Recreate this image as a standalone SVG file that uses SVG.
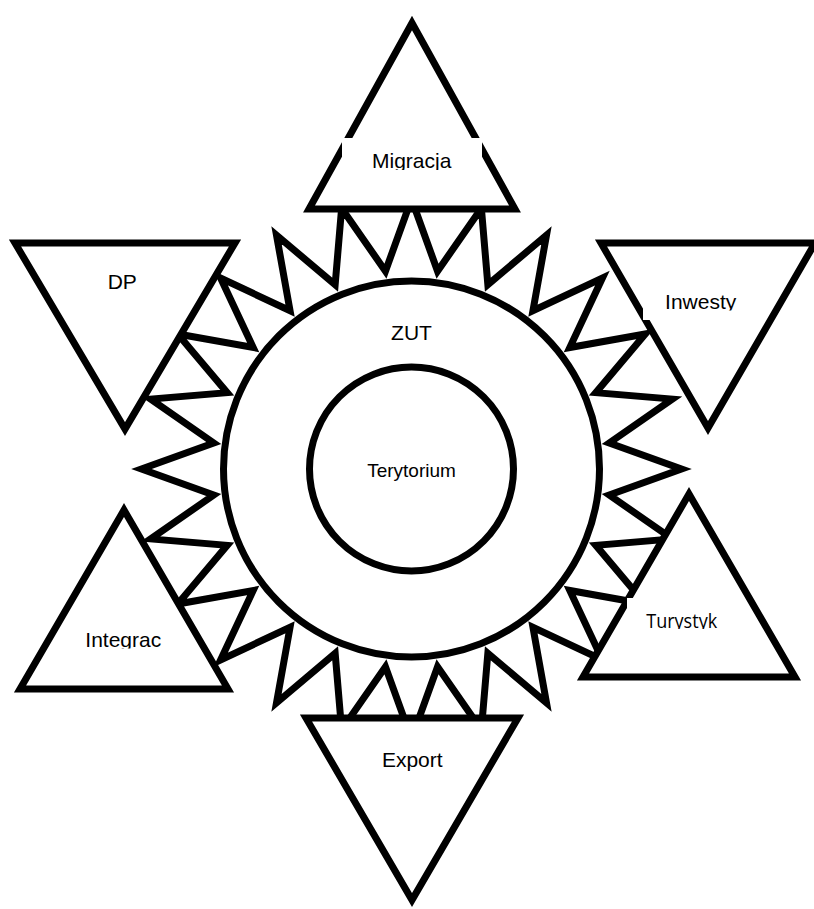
<svg xmlns="http://www.w3.org/2000/svg" width="814" height="909" viewBox="0 0 814 909">
<style>
.shape{fill:#fff;stroke:#000;stroke-width:7;stroke-linejoin:miter;stroke-miterlimit:10}
.lbl{font-family:"Liberation Sans",Arial,sans-serif;font-size:21px;fill:#000;text-anchor:middle}
.box{fill:#fff;stroke:none}
</style>
<defs>
<clipPath id="cMig"><rect x="340" y="130" width="145" height="40"/></clipPath>
<clipPath id="cInw"><rect x="640" y="280" width="125" height="30.5"/></clipPath>
<clipPath id="cInt"><rect x="60" y="615" width="130" height="33.5"/></clipPath>
<clipPath id="cTur"><rect x="620" y="598" width="125" height="31"/></clipPath>
</defs>
<rect width="814" height="909" fill="#fff"/>
<g id="connectors">
<polygon id="sun-rays" class="shape" transform="translate(411.5,469)" points="0,-270 26.04,-197.79 69.88,-260.8 76.35,-184.31 135,-233.83 121.45,-158.27 190.92,-190.92 158.27,-121.45 233.83,-135 184.31,-76.35 260.8,-69.88 197.79,-26.04 270,0 197.79,26.04 260.8,69.88 184.31,76.35 233.83,135 158.27,121.45 190.92,190.92 121.45,158.27 135,233.83 76.35,184.31 69.88,260.8 26.04,197.79 0,270 -26.04,197.79 -69.88,260.8 -76.35,184.31 -135,233.83 -121.45,158.27 -190.92,190.92 -158.27,121.45 -233.83,135 -184.31,76.35 -260.8,69.88 -197.79,26.04 -270,0 -197.79,-26.04 -260.8,-69.88 -184.31,-76.35 -233.83,-135 -158.27,-121.45 -190.92,-190.92 -121.45,-158.27 -135,-233.83 -76.35,-184.31 -69.88,-260.8 -26.04,-197.79"/>
</g>
<g id="zut">
<circle class="shape" cx="411.5" cy="469" r="188"/>
<text class="lbl" x="411.5" y="340">ZUT</text>
</g>
<g id="terytorium">
<circle class="shape" cx="411.5" cy="469" r="102"/>
<text class="lbl" x="411.5" y="477" style="font-size:19px">Terytorium</text>
</g>
<g id="migracja">
<polygon class="shape" points="412,23 309,209 515,209"/>
<rect class="box" x="342" y="138" width="140" height="34"/>
<text class="lbl" x="411.7" y="168.3" clip-path="url(#cMig)">Migracja</text>
</g>
<g id="dp">
<polygon class="shape" points="15,243 235,243 125,429"/>
<text class="lbl" x="122.3" y="289.3">DP</text>
</g>
<g id="inwesty">
<polygon class="shape" points="601,243 815,243 708,428"/>
<rect class="box" x="643" y="280" width="117" height="40"/>
<text class="lbl" x="700.7" y="309" clip-path="url(#cInw)">Inwesty</text>
</g>
<g id="integrac">
<polygon class="shape" points="124,510 20,689 228,689"/>
<text class="lbl" x="123.3" y="647" clip-path="url(#cInt)">Integrac</text>
</g>
<g id="turystyk">
<polygon class="shape" points="689,494 583,677 795,677"/>
<rect class="box" x="627" y="598" width="113" height="34"/>
<text class="lbl" x="681.7" y="628.3" clip-path="url(#cTur)" style="font-family:'Open Sans','Noto Sans',sans-serif;font-size:20px" textLength="71" lengthAdjust="spacingAndGlyphs">Turystyk</text>
</g>
<g id="export">
<polygon class="shape" points="306,718 518,718 412,900"/>
<text class="lbl" x="412.3" y="767.3">Export</text>
</g>
</svg>
